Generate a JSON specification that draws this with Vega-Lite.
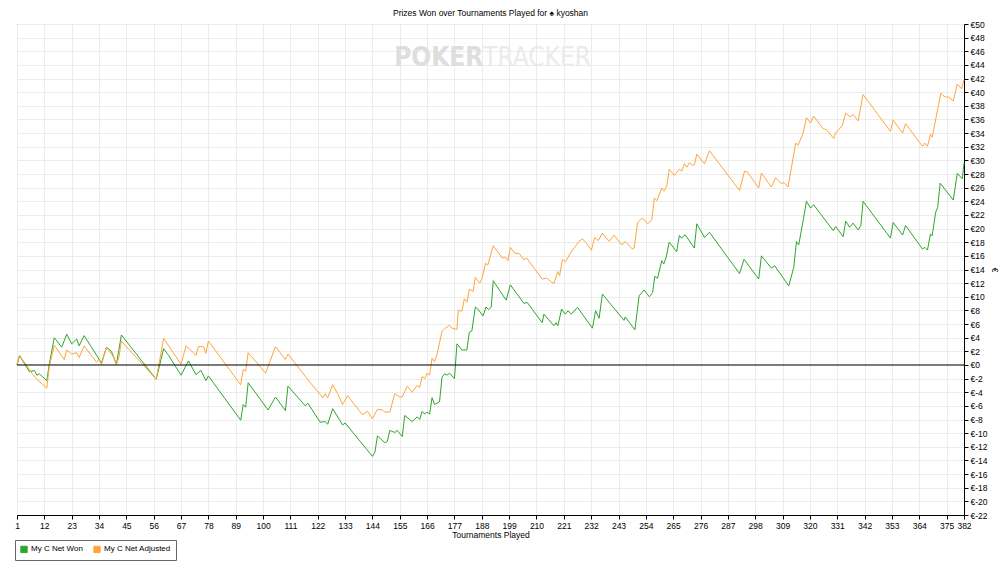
{
  "$schema": "https://vega.github.io/schema/vega-lite/v6.json",
  "width": 947,
  "height": 491,
  "autosize": {"type": "none"},
  "padding": {"left": 17, "top": 24, "right": 36, "bottom": 50},
  "background": "white",
  "title": {
    "text": "Prizes Won over Tournaments Played for ♠ kyoshan",
    "fontSize": 8.5,
    "fontWeight": "normal",
    "font": "Liberation Sans",
    "color": "#000",
    "offset": 3
  },
  "datasets": {
    "won": [
      {"t": 1, "v": 0}, {"t": 2, "v": 1.4}, {"t": 6, "v": -1.0}, {"t": 8, "v": -0.8}, {"t": 9, "v": -1.5},
      {"t": 10, "v": -1.3}, {"t": 13, "v": -2.3}, {"t": 14, "v": 0.1}, {"t": 16, "v": 4.0}, {"t": 19, "v": 2.6},
      {"t": 21, "v": 4.5}, {"t": 23, "v": 3.1}, {"t": 25, "v": 3.8}, {"t": 26, "v": 2.8}, {"t": 28, "v": 4.3},
      {"t": 35, "v": 0.3}, {"t": 37, "v": 2.6}, {"t": 39, "v": 2.0}, {"t": 41, "v": 0.1}, {"t": 43, "v": 4.4},
      {"t": 57, "v": -2.1}, {"t": 60, "v": 2.4}, {"t": 62, "v": 1.4}, {"t": 67, "v": -1.5}, {"t": 70, "v": 0.6},
      {"t": 73, "v": -1.4}, {"t": 75, "v": -0.8}, {"t": 77, "v": -2.3}, {"t": 78, "v": -1.6}, {"t": 91, "v": -8.1},
      {"t": 92, "v": -5.8}, {"t": 93, "v": -6.2}, {"t": 94, "v": -2.6}, {"t": 102, "v": -6.6}, {"t": 105, "v": -4.7},
      {"t": 109, "v": -6.7}, {"t": 110, "v": -3.1}, {"t": 117, "v": -6.0}, {"t": 118, "v": -5.6}, {"t": 123, "v": -8.4},
      {"t": 125, "v": -8.3}, {"t": 126, "v": -8.7}, {"t": 128, "v": -6.4}, {"t": 132, "v": -8.8}, {"t": 133, "v": -8.5},
      {"t": 144, "v": -13.4}, {"t": 145, "v": -12.8}, {"t": 146, "v": -10.4}, {"t": 149, "v": -11.4}, {"t": 150, "v": -11.2},
      {"t": 151, "v": -9.6}, {"t": 153, "v": -9.9}, {"t": 154, "v": -9.6}, {"t": 156, "v": -10.5}, {"t": 157, "v": -7.4},
      {"t": 160, "v": -8.3}, {"t": 162, "v": -7.6}, {"t": 163, "v": -8.0}, {"t": 164, "v": -6.8}, {"t": 165, "v": -7.2},
      {"t": 166, "v": -6.9}, {"t": 167, "v": -7.2}, {"t": 168, "v": -4.8}, {"t": 169, "v": -5.8}, {"t": 171, "v": -5.4},
      {"t": 172, "v": -1.8}, {"t": 173, "v": -1.3}, {"t": 174, "v": -1.5}, {"t": 175, "v": -1.2}, {"t": 177, "v": -2.0},
      {"t": 178, "v": 3.1}, {"t": 180, "v": 2.2}, {"t": 182, "v": 2.2}, {"t": 183, "v": 4.8}, {"t": 184, "v": 5.0},
      {"t": 185.4, "v": 8.5}, {"t": 186.4, "v": 8.2}, {"t": 188.5, "v": 7.2}, {"t": 189.7, "v": 8.5}, {"t": 190.8, "v": 8.1},
      {"t": 191.8, "v": 8.5}, {"t": 192.6, "v": 12.35}, {"t": 197.8, "v": 9.5}, {"t": 199.5, "v": 11.75}, {"t": 204.9, "v": 9.05},
      {"t": 206.3, "v": 9.15}, {"t": 212.3, "v": 6.2}, {"t": 213, "v": 7.45}, {"t": 217, "v": 5.75}, {"t": 217.9, "v": 6.2},
      {"t": 218.6, "v": 5.75}, {"t": 220.1, "v": 8.2}, {"t": 221.5, "v": 7.45}, {"t": 222.7, "v": 7.95}, {"t": 224, "v": 7.45},
      {"t": 226.5, "v": 8.45}, {"t": 232.5, "v": 5.4}, {"t": 233.8, "v": 7.95}, {"t": 235.2, "v": 6.85}, {"t": 236.5, "v": 10.4},
      {"t": 245.2, "v": 6.55}, {"t": 245.7, "v": 7.05}, {"t": 249.6, "v": 5.15}, {"t": 251.3, "v": 10.15}, {"t": 253.3, "v": 11.0},
      {"t": 255.4, "v": 10.0}, {"t": 256.7, "v": 10.6}, {"t": 257.6, "v": 13.0}, {"t": 258.7, "v": 12.7}, {"t": 260.4, "v": 15.3},
      {"t": 261.2, "v": 14.8}, {"t": 262.2, "v": 15.8}, {"t": 263.4, "v": 18.0}, {"t": 266.4, "v": 16.6}, {"t": 267.5, "v": 19.0},
      {"t": 268.4, "v": 18.6}, {"t": 269.8, "v": 19.1}, {"t": 273.5, "v": 17.15}, {"t": 274.5, "v": 20.7}, {"t": 277.6, "v": 18.7},
      {"t": 279.6, "v": 19.45}, {"t": 291.7, "v": 13.4}, {"t": 293.5, "v": 15.5}, {"t": 299.4, "v": 12.6}, {"t": 300.5, "v": 16.0},
      {"t": 304.5, "v": 14.2}, {"t": 305.8, "v": 14.55}, {"t": 311.5, "v": 11.6}, {"t": 313.5, "v": 14.3}, {"t": 314.6, "v": 18.1},
      {"t": 315.5, "v": 17.6}, {"t": 317.3, "v": 21.2}, {"t": 318.6, "v": 24.0}, {"t": 320.3, "v": 23.0}, {"t": 321.5, "v": 23.5},
      {"t": 329.4, "v": 19.7}, {"t": 330.4, "v": 20.3}, {"t": 333.4, "v": 18.8}, {"t": 334.4, "v": 21.1}, {"t": 336, "v": 20.2},
      {"t": 337.4, "v": 20.8}, {"t": 339.4, "v": 19.8}, {"t": 340.5, "v": 20.45}, {"t": 341.4, "v": 24.0}, {"t": 352.4, "v": 18.6},
      {"t": 353.5, "v": 20.9}, {"t": 357.3, "v": 19.05}, {"t": 358.5, "v": 20.45}, {"t": 365.3, "v": 17.0}, {"t": 366.2, "v": 17.25},
      {"t": 367.3, "v": 16.85}, {"t": 368.5, "v": 19.2}, {"t": 369.2, "v": 18.95}, {"t": 370.6, "v": 22.4}, {"t": 371.4, "v": 23.1},
      {"t": 372.4, "v": 26.65}, {"t": 377.7, "v": 24.2}, {"t": 379.3, "v": 28.1}, {"t": 381.3, "v": 27.3}, {"t": 382, "v": 29.6}
    ],
    "adjusted": [
      {"t": 1, "v": 0}, {"t": 2, "v": 1.4}, {"t": 7, "v": -1.2}, {"t": 9, "v": -2.1}, {"t": 13, "v": -3.4},
      {"t": 14, "v": -0.2}, {"t": 16, "v": 2.9}, {"t": 20, "v": 0.8}, {"t": 21, "v": 2.2}, {"t": 23, "v": 1.6},
      {"t": 25, "v": 1.8}, {"t": 26, "v": 1.1}, {"t": 28, "v": 2.8}, {"t": 33, "v": 0.4}, {"t": 34, "v": 0.8},
      {"t": 35, "v": 0.1}, {"t": 37, "v": 2.6}, {"t": 40, "v": 1.1}, {"t": 41, "v": 0.1}, {"t": 42, "v": 1.1},
      {"t": 43, "v": 3.5}, {"t": 57, "v": -2.1}, {"t": 60, "v": 3.9}, {"t": 67, "v": 0.1}, {"t": 69, "v": 2.8},
      {"t": 72, "v": 1.8}, {"t": 73, "v": 1.4}, {"t": 74, "v": 2.7}, {"t": 76, "v": 2.7}, {"t": 77, "v": 1.7},
      {"t": 78, "v": 3.5}, {"t": 91, "v": -2.9}, {"t": 92, "v": -0.7}, {"t": 93, "v": -0.9}, {"t": 94, "v": 1.8},
      {"t": 98, "v": 0.1}, {"t": 101, "v": -1.2}, {"t": 105, "v": 2.7}, {"t": 109, "v": 0.8}, {"t": 110, "v": 1.6},
      {"t": 119, "v": -2.6}, {"t": 124, "v": -4.8}, {"t": 125, "v": -4.2}, {"t": 126, "v": -4.8}, {"t": 128, "v": -2.9},
      {"t": 130, "v": -4.2}, {"t": 132, "v": -5.8}, {"t": 134, "v": -4.5}, {"t": 140, "v": -7.3}, {"t": 142, "v": -6.8},
      {"t": 144, "v": -7.9}, {"t": 146, "v": -6.5}, {"t": 148, "v": -6.6}, {"t": 149, "v": -6.9}, {"t": 151, "v": -6.9},
      {"t": 153, "v": -4.2}, {"t": 155, "v": -4.7}, {"t": 156, "v": -4.7}, {"t": 158, "v": -3.1}, {"t": 160, "v": -4.0},
      {"t": 162, "v": -3.0}, {"t": 163, "v": -3.3}, {"t": 164, "v": -1.7}, {"t": 165, "v": -2.0}, {"t": 166, "v": -1.2},
      {"t": 167, "v": -1.5}, {"t": 168, "v": 1.0}, {"t": 169, "v": 0.5}, {"t": 170, "v": 1.6}, {"t": 172, "v": 4.9},
      {"t": 173, "v": 5.3}, {"t": 175, "v": 5.8}, {"t": 176, "v": 5.4}, {"t": 178, "v": 5.2}, {"t": 178.5, "v": 8.0},
      {"t": 180, "v": 7.9}, {"t": 181, "v": 9.7}, {"t": 182, "v": 9.2}, {"t": 183, "v": 11.1}, {"t": 184.5, "v": 10.8},
      {"t": 185.4, "v": 12.85}, {"t": 187.2, "v": 12.0}, {"t": 188.1, "v": 12.7}, {"t": 189.5, "v": 14.9}, {"t": 190.4, "v": 14.65},
      {"t": 192.6, "v": 17.5}, {"t": 196.2, "v": 15.7}, {"t": 197.5, "v": 15.8}, {"t": 198.5, "v": 15.3}, {"t": 199.5, "v": 17.25},
      {"t": 201.3, "v": 16.4}, {"t": 203.2, "v": 16.3}, {"t": 204.9, "v": 15.4}, {"t": 206, "v": 15.7}, {"t": 212.3, "v": 12.6},
      {"t": 214.1, "v": 12.75}, {"t": 215.7, "v": 12.25}, {"t": 217, "v": 11.95}, {"t": 218.6, "v": 13.7}, {"t": 219.3, "v": 13.1},
      {"t": 220.4, "v": 15.45}, {"t": 221.7, "v": 15.15}, {"t": 223.8, "v": 16.5}, {"t": 227.1, "v": 18.1}, {"t": 228.5, "v": 18.5},
      {"t": 229.8, "v": 18.0}, {"t": 232.1, "v": 16.85}, {"t": 233.4, "v": 18.7}, {"t": 234.9, "v": 18.25}, {"t": 236.5, "v": 19.35},
      {"t": 239.2, "v": 18.1}, {"t": 241.2, "v": 19.05}, {"t": 244.3, "v": 17.6}, {"t": 245.7, "v": 18.1}, {"t": 248.6, "v": 17.0},
      {"t": 249.3, "v": 17.15}, {"t": 250.7, "v": 20.9}, {"t": 252.7, "v": 21.55}, {"t": 254.7, "v": 20.7}, {"t": 256.4, "v": 21.3},
      {"t": 257.4, "v": 24.45}, {"t": 258.5, "v": 24.1}, {"t": 260.4, "v": 25.95}, {"t": 261.4, "v": 25.5}, {"t": 262.4, "v": 26.2},
      {"t": 263.4, "v": 28.7}, {"t": 265.5, "v": 27.8}, {"t": 267.5, "v": 28.75}, {"t": 268.4, "v": 28.4}, {"t": 269.5, "v": 29.5},
      {"t": 270.5, "v": 29.0}, {"t": 271.5, "v": 29.65}, {"t": 272.9, "v": 29.25}, {"t": 273.5, "v": 29.35}, {"t": 274.5, "v": 30.9},
      {"t": 277.6, "v": 29.5}, {"t": 279.6, "v": 31.4}, {"t": 291.7, "v": 25.6}, {"t": 293.7, "v": 28.4}, {"t": 294.8, "v": 28.3},
      {"t": 299.4, "v": 25.95}, {"t": 300.5, "v": 28.15}, {"t": 304.5, "v": 26.1}, {"t": 306.2, "v": 27.45}, {"t": 308.3, "v": 26.65},
      {"t": 309.7, "v": 26.7}, {"t": 311.2, "v": 26.1}, {"t": 314.3, "v": 32.55}, {"t": 315.2, "v": 32.2}, {"t": 317.2, "v": 33.9},
      {"t": 318.6, "v": 36.25}, {"t": 320.3, "v": 35.5}, {"t": 321.5, "v": 36.5}, {"t": 325.3, "v": 34.65}, {"t": 326.7, "v": 34.5},
      {"t": 329.6, "v": 33.2}, {"t": 330.3, "v": 34.0}, {"t": 331.3, "v": 34.4}, {"t": 333.1, "v": 35.15}, {"t": 334.4, "v": 36.95},
      {"t": 336, "v": 36.4}, {"t": 337.4, "v": 36.7}, {"t": 339.4, "v": 35.8}, {"t": 341.4, "v": 39.65}, {"t": 352.4, "v": 34.25},
      {"t": 353.5, "v": 35.9}, {"t": 357.3, "v": 34.0}, {"t": 358.5, "v": 35.4}, {"t": 365.3, "v": 32.05}, {"t": 366.2, "v": 32.55},
      {"t": 367.3, "v": 32.05}, {"t": 368.5, "v": 33.8}, {"t": 369.2, "v": 33.4}, {"t": 372.7, "v": 39.85}, {"t": 374.3, "v": 39.3},
      {"t": 375.7, "v": 39.3}, {"t": 377.7, "v": 38.7}, {"t": 379.3, "v": 41.2}, {"t": 381, "v": 40.5}, {"t": 382, "v": 41.8}
    ]
  },
  "layer": [
    {
      "data": {"name": "won"},
      "mark": {"type": "line", "strokeWidth": 1, "interpolate": "linear"},
      "encoding": {
        "x": {
          "field": "t",
          "type": "quantitative",
          "scale": {"domain": [1, 382], "nice": false, "zero": false},
          "axis": {
            "title": "Tournaments Played",
            "values": [1, 12, 23, 34, 45, 56, 67, 78, 89, 100, 111, 122, 133, 144, 155, 166, 177, 188, 199, 210, 221, 232, 243, 254, 265, 276, 287, 298, 309, 320, 331, 342, 353, 364, 375, 382],
            "tickCount": 200,
            "labelFlush": false,
            "labelOverlap": false,
            "titlePadding": 1
          }
        },
        "y": {
          "field": "v",
          "type": "quantitative",
          "scale": {"domain": [-22, 50], "nice": false, "zero": false},
          "axis": {
            "orient": "right",
            "title": "€",
            "values": [-22, -20, -18, -16, -14, -12, -10, -8, -6, -4, -2, 0, 2, 4, 6, 8, 10, 12, 14, 16, 18, 20, 22, 24, 26, 28, 30, 32, 34, 36, 38, 40, 42, 44, 46, 48, 50],
            "tickCount": 200,
            "labelExpr": "'€' + datum.value",
            "labelFlush": false,
            "labelOverlap": false,
            "titleAngle": 90,
            "titlePadding": 2
          }
        },
        "color": {
          "datum": "My C Net Won",
          "type": "nominal",
          "scale": {"domain": ["My C Net Won", "My C Net Adjusted"], "range": ["#2ea52e", "#ffa53a"]},
          "legend": {
            "title": null,
            "orient": "none",
            "legendX": -2,
            "legendY": 516,
            "direction": "horizontal",
            "symbolType": "square",
            "symbolSize": 40,
            "symbolStrokeWidth": 1,
            "labelFontSize": 8,
            "labelFont": "Liberation Sans",
            "labelColor": "#000",
            "labelOffset": 3,
            "columnPadding": 8,
            "padding": 5,
            "strokeColor": "#666",
            "fillColor": "white",
            "encode": {
              "symbols": {
                "update": {
                  "fill": {"scale": "color", "field": "value"},
                  "stroke": {"value": "#333"},
                  "opacity": {"value": 1}
                }
              }
            }
          }
        }
      }
    },
    {
      "data": {"name": "adjusted"},
      "mark": {"type": "line", "strokeWidth": 1, "interpolate": "linear"},
      "encoding": {
        "x": {"field": "t", "type": "quantitative"},
        "y": {"field": "v", "type": "quantitative"},
        "color": {"datum": "My C Net Adjusted", "type": "nominal"}
      }
    },
    {
      "data": {"values": [{}]},
      "mark": {"type": "rule", "color": "#000", "strokeWidth": 1},
      "encoding": {"y": {"datum": 0, "type": "quantitative"}}
    },
    {
      "data": {"values": [{}]},
      "mark": {"type": "text", "text": "POKER", "font": "DejaVu Sans Condensed, Liberation Sans", "fontSize": 26, "fontWeight": "bold", "color": "#dedede", "align": "right", "baseline": "middle"},
      "encoding": {
        "x": {"datum": 188.6, "type": "quantitative"},
        "y": {"datum": 45.0, "type": "quantitative"}
      }
    },
    {
      "data": {"values": [{}]},
      "mark": {"type": "text", "text": "TRACKER", "font": "DejaVu Sans Condensed, Liberation Sans", "fontSize": 26, "color": "#ebebeb", "align": "left", "baseline": "middle"},
      "encoding": {
        "x": {"datum": 188.6, "type": "quantitative"},
        "y": {"datum": 45.0, "type": "quantitative"}
      }
    }
  ],
  "config": {
    "view": {"stroke": "#444", "strokeWidth": 1},
    "axis": {
      "gridColor": "#ececec",
      "gridWidth": 1,
      "domainColor": "#000",
      "tickColor": "#000",
      "tickSize": 4,
      "labelFont": "Liberation Sans",
      "labelFontSize": 8.5,
      "labelColor": "#000",
      "labelOverlap": false,
      "titleFont": "Liberation Sans",
      "titleFontSize": 8.5,
      "titleFontWeight": "normal",
      "titleColor": "#000",
      "labelPadding": 2
    }
  }
}
